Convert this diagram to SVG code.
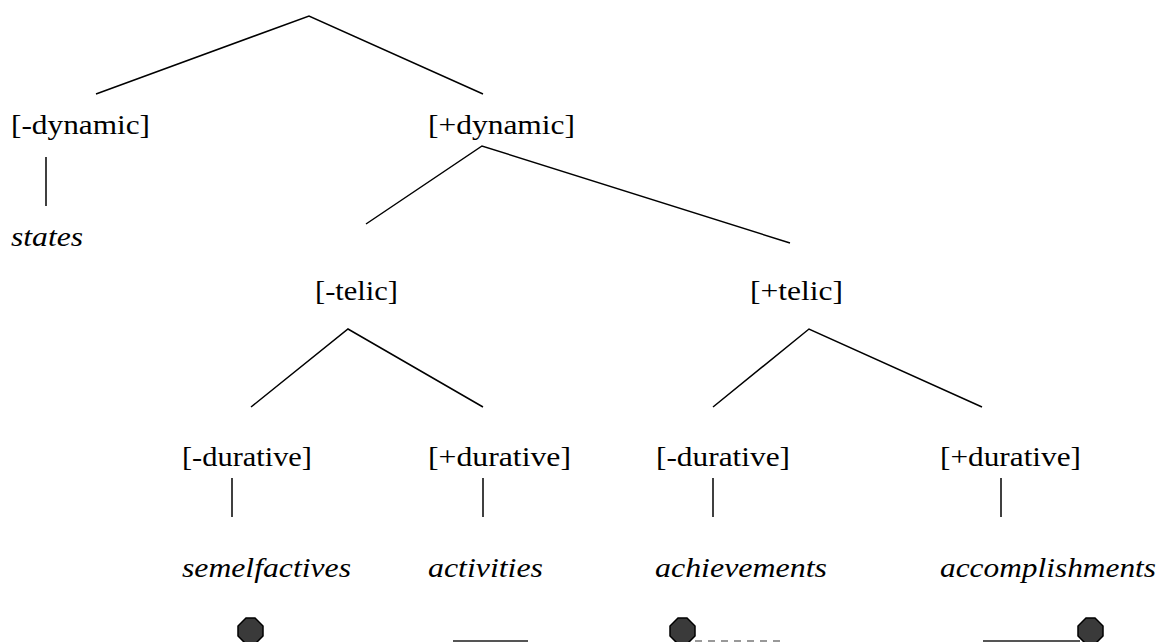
<svg xmlns="http://www.w3.org/2000/svg" width="1160" height="642" viewBox="0 0 1160 642">
<style>
text{font-family:'Times New Roman','Liberation Serif',Tinos,'DejaVu Serif',Times,serif;font-size:28px;fill:#000}
.i{font-style:italic}
.e{stroke:#000;stroke-width:1.5;fill:none}
.oct{fill:#3a3a3a;stroke:#000;stroke-width:1.5}
</style>
<rect width="1160" height="642" fill="#fff"/>
<g id="connectors">
<polyline class="e" points="96,94 309,16 483,94"/>
<line class="e" x1="46" y1="157" x2="46" y2="206"/>
<polyline class="e" points="366,224 482,146 790,243"/>
<polyline class="e" points="251,407 348,329 483,407"/>
<polyline class="e" points="713,407 809,329 982,407"/>
<line class="e" x1="232" y1="478" x2="232" y2="517"/>
<line class="e" x1="483" y1="478" x2="483" y2="517"/>
<line class="e" x1="713" y1="478" x2="713" y2="517"/>
<line class="e" x1="1001" y1="478" x2="1001" y2="517"/>
</g>
<g id="n-dyn-minus"><text x="11" y="134" textLength="139" lengthAdjust="spacingAndGlyphs">[-dynamic]</text></g>
<g id="n-states"><text class="i" x="11" y="246" textLength="72" lengthAdjust="spacingAndGlyphs">states</text></g>
<g id="n-dyn-plus"><text x="428" y="134" textLength="147" lengthAdjust="spacingAndGlyphs">[+dynamic]</text></g>
<g id="n-telic-minus"><text x="315" y="300" textLength="83" lengthAdjust="spacingAndGlyphs">[-telic]</text></g>
<g id="n-telic-plus"><text x="750" y="300" textLength="93" lengthAdjust="spacingAndGlyphs">[+telic]</text></g>
<g id="n-dur1"><text x="182" y="466" textLength="130" lengthAdjust="spacingAndGlyphs">[-durative]</text></g>
<g id="n-dur2"><text x="428" y="466" textLength="143" lengthAdjust="spacingAndGlyphs">[+durative]</text></g>
<g id="n-dur3"><text x="656" y="466" textLength="134" lengthAdjust="spacingAndGlyphs">[-durative]</text></g>
<g id="n-dur4"><text x="940" y="466" textLength="141" lengthAdjust="spacingAndGlyphs">[+durative]</text></g>
<g id="n-semel"><text class="i" x="182" y="577" textLength="169" lengthAdjust="spacingAndGlyphs">semelfactives</text></g>
<g id="n-act"><text class="i" x="428" y="577" textLength="115" lengthAdjust="spacingAndGlyphs">activities</text></g>
<g id="n-ach"><text class="i" x="655" y="577" textLength="172" lengthAdjust="spacingAndGlyphs">achievements</text></g>
<g id="n-acc"><text class="i" x="940" y="577" textLength="216" lengthAdjust="spacingAndGlyphs">accomplishments</text></g>
<g id="icon-semel"><polygon class="oct" points="246,618 255,618 263,626 263,636 255,644 246,644 238,636 238,626"/></g>
<g id="icon-act"><line x1="453" y1="641" x2="528" y2="641" stroke="#555" stroke-width="2"/></g>
<g id="icon-ach"><line x1="695" y1="641" x2="786" y2="641" stroke="#999" stroke-width="2" stroke-dasharray="7,6"/><polygon class="oct" points="678,618 687,618 695,626 695,636 687,644 678,644 670,636 670,626"/></g>
<g id="icon-acc"><line x1="983" y1="641" x2="1080" y2="641" stroke="#555" stroke-width="2"/><polygon class="oct" points="1086,618 1095,618 1103,626 1103,636 1095,644 1086,644 1078,636 1078,626"/></g>
</svg>
